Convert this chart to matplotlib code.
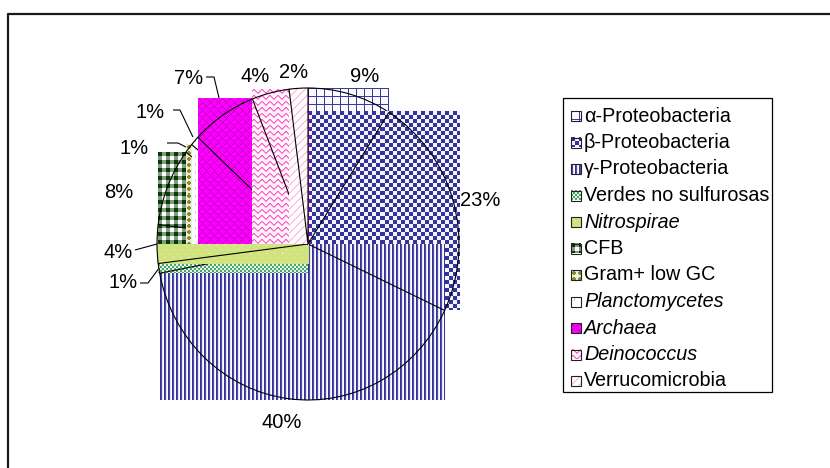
import numpy as np
import matplotlib
matplotlib.use("Agg")
import matplotlib.pyplot as plt
from matplotlib.colors import to_rgb

# ---- data -------------------------------------------------------------
groups = ["α-Proteobacteria", "β-Proteobacteria", "γ-Proteobacteria",
          "Verdes no sulfurosas", "Nitrospirae", "CFB", "Gram+ low GC",
          "Planctomycetes", "Archaea", "Deinococcus", "Verrucomicrobia"]
percent = [9, 23, 40, 1, 4, 8, 1, 1, 7, 4, 2]
italic_names = [False, False, False, False, True, False, False,
                True, True, True, False]
pct_labels = [f"{p}%" for p in percent]

# ---- layout (pixels) --------------------------------------------------
W, H = 830, 468
CX, CY, RX, RY = 308, 244, 151, 156
FONT = "Liberation Sans"
FS_PCT = 14.5
FS_LEG = 14.2

# label anchors: (x, y, horizontal alignment)
label_pos = [(365, 77, "center"), (460, 200, "left"), (282, 423, "center"),
             (138, 283, "right"), (133, 253, "right"), (119, 193, "center"),
             (149, 148, "right"), (165, 113, "right"), (203, 78, "right"),
             (255, 76, "center"), (294, 72, "center")]
# leader lines: start x, elbow x, y  (None = no leader)
leaders = [None, None, None, (140, 148, 283), (135, 135, 250), None,
           (167, 178, 143), (173, 180, 110), (206, 214, 77), None, None]


# ---- fill patterns -----------------------------------------------------
def c(h):
    return np.array(to_rgb(h))


def tile(kind):
    if kind == 0:  # large grid
        t = np.ones((8, 8, 3)) * c("#fbfbff")
        t[0, :] = c("#3a3a9c"); t[:, 0] = c("#3a3a9c")
    elif kind == 1:  # checker board
        i, j = np.mgrid[0:8, 0:8]
        m = ((i // 4 + j // 4) % 2 == 0)
        t = np.where(m[..., None], c("#333399"), c("#f4f4ff"))
    elif kind == 2:  # vertical stripes
        cols = [c("#333399"), c("#5050a8"), c("#e4e4f6"), c("#ffffff")]
        t = np.stack([np.stack(cols)] * 4)
    elif kind == 3:  # small green dots
        i, j = np.mgrid[0:4, 0:4]
        m = ((i // 2 + j // 2) % 2 == 0)
        t = np.where(m[..., None], c("#49a46a"), c("#e6f4e9"))
    elif kind == 4:  # light yellow-green with faint dots
        t = np.ones((8, 8, 3)) * c("#d0e37f")
        t[0, 0] = c("#eef4cc"); t[4, 4] = c("#eef4cc")
    elif kind == 5:  # dark green plaid
        t = np.ones((8, 8, 3)) * c("#7f9c7f")
        t[0:4, 0:4] = c("#0a3a0a"); t[4:8, 4:8] = c("#ffffff")
    elif kind == 6:  # olive diamonds
        i, j = np.mgrid[0:6, 0:6]
        m = (np.abs(i - 2.5) + np.abs(j - 2.5)) <= 2.2
        t = np.where(m[..., None], c("#8b8b1e"), c("#ecece0"))
    elif kind == 7:  # faint violet specks
        t = np.ones((8, 8, 3)) * c("#ffffff")
        t[2:5, 3] = c("#e2c4ea")
    elif kind == 8:  # magenta trellis
        i, j = np.mgrid[0:8, 0:8]
        m = ((i - j) % 8 == 0) | ((i + j) % 8 == 0)
        t = np.where(m[..., None], c("#b800c0"), c("#ff00ff"))
    elif kind == 9:  # pink waves
        t = np.ones((6, 8, 3)) * c("#fff4fb")
        rows = [1, 0, 0, 1, 2, 3, 3, 2]
        for j, r in enumerate(rows):
            t[r, j] = c("#ff5cc8")
            t[(r + 1) % 6, j] = c("#ff9ddc")
    else:  # light upward diagonal
        i, j = np.mgrid[0:8, 0:8]
        m = ((i + j) % 8 < 2)
        t = np.where(m[..., None], c("#ffc4e4"), c("#ffffff"))
    return t


def texture(kind, h, w):
    t = tile(kind)
    reps = (h // t.shape[0] + 2, w // t.shape[1] + 2, 1)
    return np.tile(t, reps)[:max(h, 1), :max(w, 1)]


# ---- figure -------------------------------------------------------------
fig = plt.figure(figsize=(W / 100, H / 100), dpi=100)
ax_bg = fig.add_axes([0, 0, 1, 1])
ax_bg.set_xlim(0, W)
ax_bg.set_ylim(H, 0)
ax_bg.axis("off")

ax = fig.add_axes([(CX - RX) / W, (H - CY - RY) / H, 2 * RX / W, 2 * RY / H])
wedges, _ = ax.pie(percent, startangle=90, counterclock=False, radius=1,
                   center=(0, 0),
                   wedgeprops=dict(fill=False, edgecolor="black",
                                   linewidth=0.8))

# each slice paints the rectangle around it, then its outline on top
for i, w in enumerate(wedges):
    t1, t2 = w.theta1, w.theta2
    angs = [t1, t2] + [k * 90 for k in range(-8, 9) if t1 < k * 90 < t2]
    a = np.radians(angs)
    xs = np.append(np.cos(a), 0.0)
    ys = np.append(np.sin(a), 0.0)
    x0, x1, y0, y1 = xs.min(), xs.max(), ys.min(), ys.max()
    hp = int(round((y1 - y0) * RY))
    wp = int(round((x1 - x0) * RX))
    ax.imshow(texture(i, hp, wp), extent=(x0, x1, y0, y1),
              interpolation="nearest", aspect="auto",
              zorder=2 * i + 1, clip_on=False)
    w.set_zorder(2 * i + 2)
    w.set_clip_on(False)

ax.set_xlim(-1, 1)
ax.set_ylim(-1, 1)
ax.set_aspect("auto")
ax.axis("off")

# ---- percentage labels and leader lines -------------------------------
to_bg = ax_bg.transData.inverted()
for i, w in enumerate(wedges):
    tx, ty, ha = label_pos[i]
    ax_bg.text(tx, ty, pct_labels[i], ha=ha, va="center", fontsize=FS_PCT,
               family=FONT, color="black", zorder=40)
    if leaders[i] is not None:
        xs_, xe_, yl = leaders[i]
        mid = np.radians((w.theta1 + w.theta2) / 2)
        px, py = to_bg.transform(ax.transData.transform((np.cos(mid),
                                                          np.sin(mid))))
        ax_bg.plot([xs_, xe_, px], [yl, yl, py], color="black", lw=0.8,
                   zorder=40, solid_capstyle="butt")

# ---- chart border -------------------------------------------------------
ax_bg.plot([8, 8, W + 20], [H + 20, 14, 14], color="#1a1a1a", lw=1.6,
           zorder=1)

# ---- legend -------------------------------------------------------------
LX0, LY0, LX1, LY1 = 563, 98, 772, 392
ax_bg.add_patch(plt.Rectangle((LX0, LY0), LX1 - LX0, LY1 - LY0,
                              facecolor="white", edgecolor="black", lw=0.9,
                              zorder=20))
for i, name in enumerate(groups):
    y = 116 + 26.5 * i
    ax_bg.imshow(texture(i, 10, 10), extent=(571, 581, y + 5, y - 5),
                 interpolation="nearest", aspect="auto", zorder=21)
    ax_bg.add_patch(plt.Rectangle((571, y - 5), 10, 10, fill=False,
                                  edgecolor="#222222", lw=0.8, zorder=22))
    ax_bg.text(584, y, name, ha="left", va="center", fontsize=FS_LEG,
               family=FONT, style="italic" if italic_names[i] else "normal",
               zorder=23)

ax_bg.set_xlim(0, W)
ax_bg.set_ylim(H, 0)
ax_bg.set_aspect("auto")

fig.savefig("out.png", dpi=100)
